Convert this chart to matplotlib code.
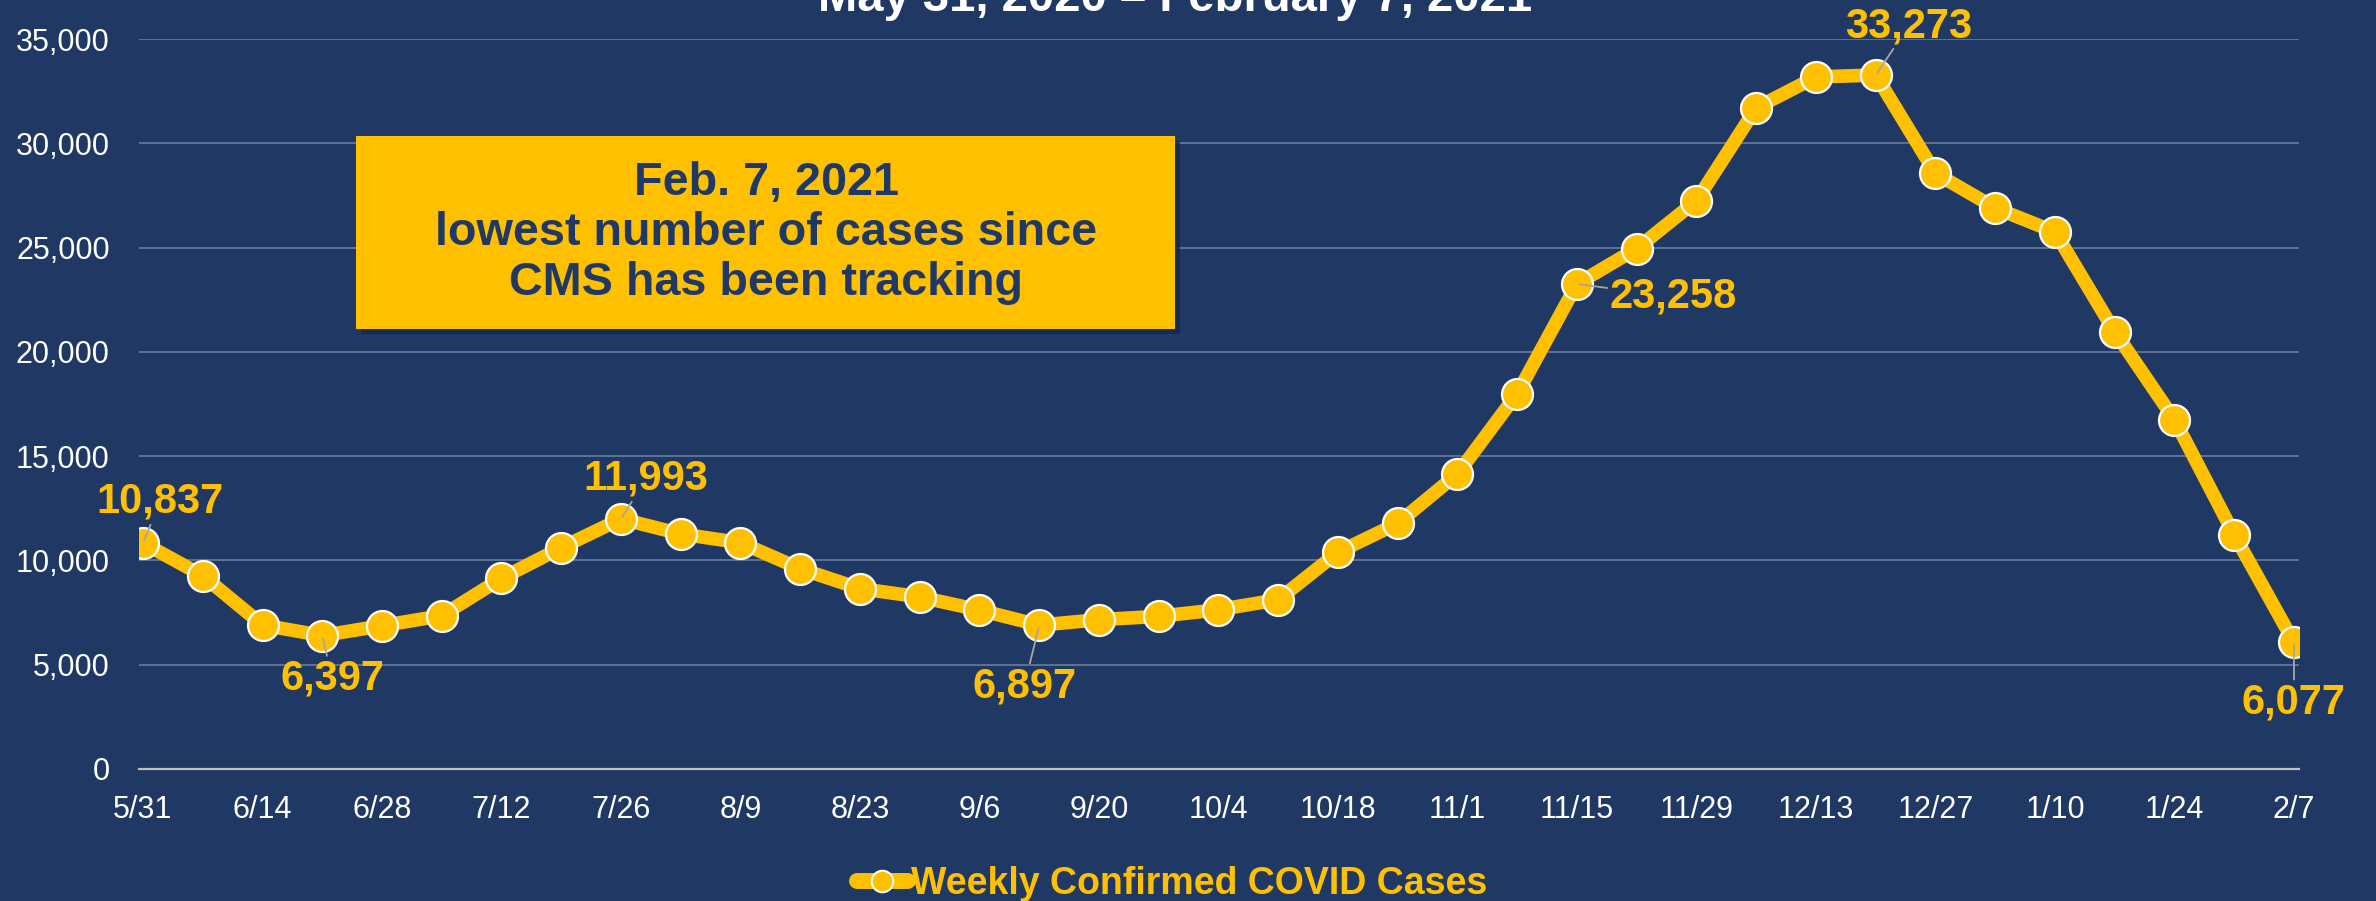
import matplotlib
matplotlib.use("Agg")
import matplotlib.pyplot as plt
from matplotlib.lines import Line2D
from matplotlib.patches import Rectangle
from matplotlib.ticker import FuncFormatter

plt.rcParams['font.family'] = ['Liberation Sans', 'DejaVu Sans']

weeks = ["5/31", "6/7", "6/14", "6/21", "6/28", "7/5", "7/12", "7/19", "7/26",
         "8/2", "8/9", "8/16", "8/23", "8/30", "9/6", "9/13", "9/20", "9/27",
         "10/4", "10/11", "10/18", "10/25", "11/1", "11/8", "11/15", "11/22",
         "11/29", "12/6", "12/13", "12/20", "12/27", "1/3", "1/10", "1/17",
         "1/24", "1/31", "2/7"]
cases = [10837, 9270, 6905, 6397, 6870, 7350, 9140, 10610, 11993,
         11270, 10850, 9600, 8650, 8250, 7620, 6897, 7160, 7320,
         7640, 8120, 10390, 11780, 14150, 18000, 23258, 24950,
         27250, 31700, 33180, 33273, 28560, 26900, 25750, 20960,
         16750, 11230, 6077]
labeled_weeks = ["5/31", "6/21", "7/26", "9/13", "11/15", "12/20", "2/7"]
series_name = "Weekly Confirmed COVID Cases"
title = "May 31, 2020 \u2013 February 7, 2021"
note = "Feb. 7, 2021\nlowest number of cases since\nCMS has been tracking"

BG = "#203864"
GOLD = "#FFC000"

W, H = 2376, 901
fig = plt.figure(figsize=(W / 100, H / 100), dpi=100, facecolor=BG)
ax = fig.add_axes([139 / W, 1 - 769 / H, 2160 / W, 730 / H])
ax.set_facecolor(BG)

x = list(range(len(weeks)))
ax.plot(x, cases, color=GOLD, lw=9.8, marker="o", ms=22.3, mfc=GOLD,
        mec="white", mew=1.6, zorder=3, solid_joinstyle="miter")

ax.set_xlim(-0.067, len(weeks) - 1 + 0.084)
ax.set_ylim(0, 35000)
ax.set_yticks(range(0, 35001, 5000))
ax.yaxis.set_major_formatter(FuncFormatter(lambda v, p: f"{int(v):,}"))
ax.set_xticks(x[::2])
ax.set_xticklabels(weeks[::2])
ax.tick_params(axis="both", length=0, colors="white", labelsize=22)
ax.tick_params(axis="x", pad=19)
ax.tick_params(axis="y", pad=21)
ax.grid(axis="y", color="#6a7c9c", lw=1.2, zorder=1)
for s in ["top", "right", "left"]:
    ax.spines[s].set_visible(False)
ax.spines["bottom"].set_color("#bfbfbf")
ax.spines["bottom"].set_linewidth(1.6)
ax.spines["bottom"].set_zorder(2)

# label offsets in pixels (right, up) to the text baseline
offsets = {"5/31": (17, 30, "center"), "6/21": (10, -54, "center"),
           "7/26": (25, 29, "center"), "9/13": (-15, -72, "center"),
           "11/15": (33, -24, "left"), "12/20": (33, 38, "center"),
           "2/7": (0, -71, "center")}
for wk in labeled_weeks:
    i = weeks.index(wk)
    dx, dy, ha = offsets[wk]
    ax.annotate(f"{cases[i]:,}", xy=(i, cases[i]), xytext=(dx, dy),
                textcoords="offset pixels", ha=ha, va="baseline",
                color=GOLD, fontsize=30, fontweight="bold", zorder=5,
                arrowprops=dict(arrowstyle="-", color="#a6a6a6", lw=1.3,
                                shrinkA=0, shrinkB=2))

# callout box with shadow
fig.add_artist(Rectangle((361 / W, 1 - 334 / H), 819 / W, 193 / H,
                         transform=fig.transFigure, facecolor="#15274a",
                         edgecolor="none", alpha=0.8, zorder=6))
fig.add_artist(Rectangle((356 / W, 1 - 329 / H), 819 / W, 193 / H,
                         transform=fig.transFigure, facecolor=GOLD,
                         edgecolor="none", zorder=7))
fig.text(766 / W, 1 - 233 / H, note, ha="center", va="center",
         color=BG, fontsize=33.7, fontweight="bold", linespacing=1.18,
         zorder=8)

# title, partly cut off at the top edge as in the source slide
fig.text(1175 / W, 1 - 11 / H, title, ha="center", va="baseline",
         color="white", fontsize=34, fontweight="bold")

handle = Line2D([0], [0], color=GOLD, lw=11.5, marker="o", ms=15.5, mfc=GOLD,
                mec="white", mew=1.5, solid_capstyle="round")
leg = fig.legend([handle], [series_name], loc="center",
                 bbox_to_anchor=(1172 / W, 1 - 884 / H), frameon=False,
                 handlelength=1.36, handletextpad=0.1, borderpad=0,
                 prop=dict(size=27, weight="bold"))
for t in leg.get_texts():
    t.set_color(GOLD)

fig.savefig("out.png", dpi=100, facecolor=BG)
